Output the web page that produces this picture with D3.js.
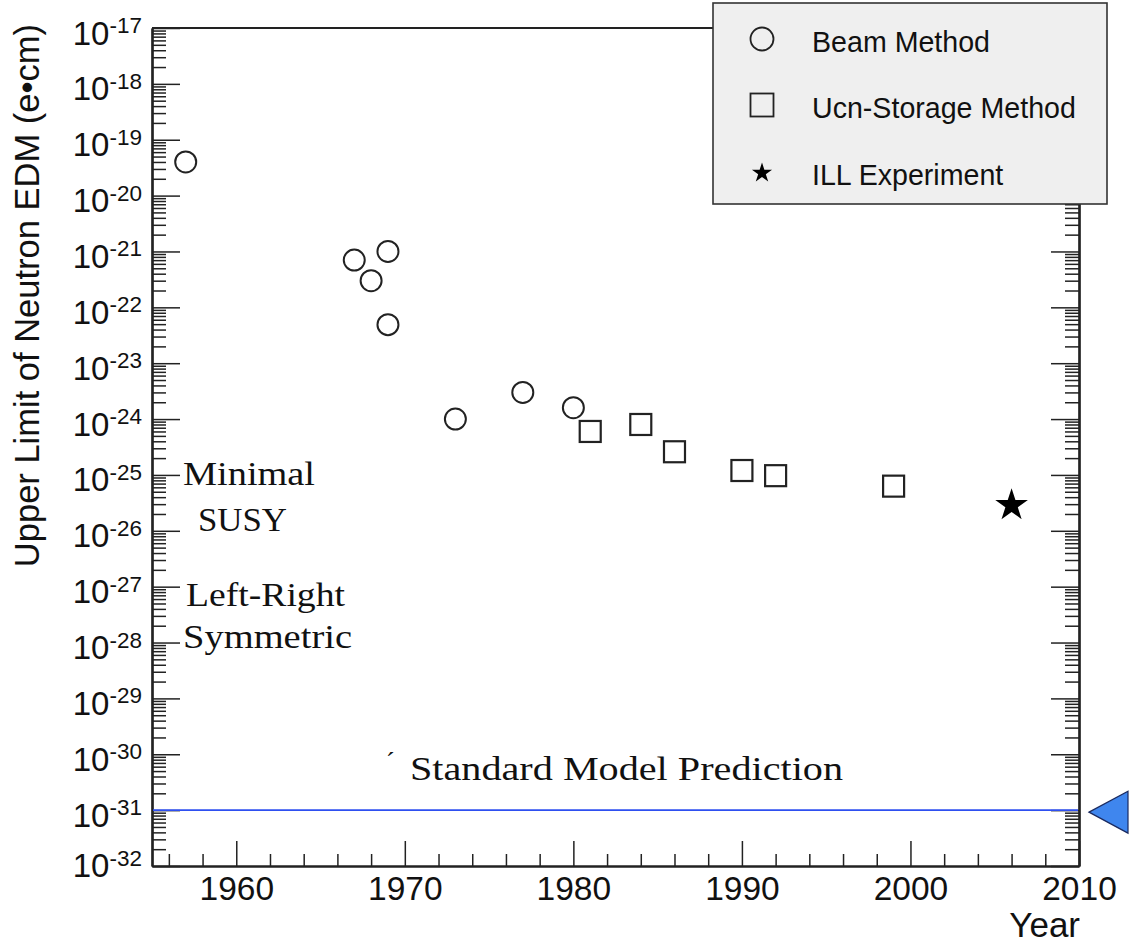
<!DOCTYPE html>
<html>
<head>
<meta charset="utf-8">
<script src="https://cdn.jsdelivr.net/npm/d3@7"></script>
<style>
  html, body { margin: 0; padding: 0; background: #fff; }
  svg { display: block; }
</style>
</head>
<body>
<svg id="chart" width="1129" height="944"></svg>
<script>
// ---------------- data ----------------
const beamYears  = [1957, 1967, 1968, 1969, 1969, 1973, 1977, 1980];
const beamValues = [4e-20, 7e-22, 3e-22, 1e-21, 4.9e-23, 1e-24, 3e-24, 1.6e-24];

const ucnYears  = [1981, 1984, 1986, 1990, 1992, 1999];
const ucnValues = [6e-25, 8e-25, 2.6e-25, 1.2e-25, 9.7e-26, 6.3e-26];

const illYears  = [2006];
const illValues = [3.1e-26];

const standardModelValue = 1e-31;

const xTickYears = [1960, 1970, 1980, 1990, 2000, 2010];
const yTickExponents = [-17, -18, -19, -20, -21, -22, -23, -24, -25, -26, -27, -28, -29, -30, -31, -32];

const legendLabels = ["Beam Method", "Ucn-Storage Method", "ILL Experiment"];
const theoryLabels = [
  {lines: ["Minimal", "SUSY"]},
  {lines: ["Left-Right", "Symmetric"]}
];
const smLabel = "Standard Model Prediction";
const yTitle = "Upper Limit of Neutron EDM (e\u2022cm)";
const xTitle = "Year";

// ---------------- layout ----------------
const L = 152, R = 1079, T = 28, B = 866;
const svg = d3.select("#chart");
const x = d3.scaleLinear().domain([1955, 2010]).range([L, R]);
const y = d3.scaleLog().domain([1e-32, 1e-17]).range([B, T]);
const ink = "#222";
const sans = "'Liberation Sans', Arial, Helvetica, sans-serif";
const serif = "'Liberation Serif', 'Times New Roman', serif";

// ---------------- axes ----------------
const majorY = yTickExponents.map(e => Math.pow(10, e));
const minorY = [];
yTickExponents.filter(e => e < -17).forEach(e => {
  for (let k = 2; k <= 9; k++) minorY.push(k * Math.pow(10, e));
});

function styleAxis(g) {
  g.selectAll("path.domain").attr("stroke", ink).attr("stroke-width", 2.2);
  g.selectAll(".tick line").attr("stroke", ink).attr("stroke-width", 1.5);
  g.selectAll("text").remove();
}

// left axis
svg.append("g").attr("transform", `translate(${L},0)`)
  .call(d3.axisLeft(y).tickValues(minorY).tickSize(-14).tickSizeOuter(0).tickFormat(""))
  .call(styleAxis);
svg.append("g").attr("transform", `translate(${L},0)`)
  .call(d3.axisLeft(y).tickValues(majorY).tickSize(-28).tickSizeOuter(0).tickFormat(""))
  .call(styleAxis);

// right axis
svg.append("g").attr("transform", `translate(${R},0)`)
  .call(d3.axisRight(y).tickValues(minorY).tickSize(-14).tickSizeOuter(0).tickFormat(""))
  .call(styleAxis);
svg.append("g").attr("transform", `translate(${R},0)`)
  .call(d3.axisRight(y).tickValues(majorY).tickSize(-28).tickSizeOuter(0).tickFormat(""))
  .call(styleAxis);

// bottom axis
const minorYears = d3.range(1956, 2010, 2).filter(v => !xTickYears.includes(v));
svg.append("g").attr("transform", `translate(0,${B})`)
  .call(d3.axisBottom(x).tickValues(minorYears).tickSize(-12).tickSizeOuter(0).tickFormat(""))
  .call(styleAxis);
const xAxis = svg.append("g").attr("transform", `translate(0,${B})`)
  .call(d3.axisBottom(x).tickValues(xTickYears).tickSize(-25).tickSizeOuter(0).tickFormat(d3.format("d")).tickPadding(10));
xAxis.selectAll("path.domain").attr("stroke", ink).attr("stroke-width", 2.2);
xAxis.selectAll(".tick line").attr("stroke", ink).attr("stroke-width", 1.5);
xAxis.selectAll("text").attr("font-family", sans).attr("font-size", 33.5).attr("fill", "#111");

// top frame line
svg.append("line").attr("x1", L).attr("x2", R).attr("y1", T).attr("y2", T)
  .attr("stroke", ink).attr("stroke-width", 2.2);

// y tick labels 10^n
yTickExponents.forEach((e, i) => {
  const yy = y(Math.pow(10, e));
  const off = (e === -32) ? 11 : 16.5;
  const t = svg.append("text").attr("x", 142).attr("y", yy + off)
    .attr("text-anchor", "end").attr("font-family", sans).attr("fill", "#111");
  t.append("tspan").attr("font-size", 33).text("10");
  t.append("tspan").attr("font-size", 22.5).attr("dy", -11.5).text(String(e));
});

// axis titles
svg.append("text")
  .attr("transform", "rotate(-90)")
  .attr("x", -24).attr("y", 39)
  .attr("text-anchor", "end")
  .attr("font-family", sans).attr("font-size", 34.5).attr("fill", "#111")
  .text(yTitle);
svg.append("text").attr("x", 1080).attr("y", 937).attr("text-anchor", "end")
  .attr("font-family", sans).attr("font-size", 35).attr("fill", "#111").text(xTitle);

// ---------------- standard model line & marker ----------------
const ySM = y(standardModelValue);
svg.append("line").attr("x1", L + 1).attr("x2", R - 1).attr("y1", ySM).attr("y2", ySM)
  .attr("stroke", "#2e4ff0").attr("stroke-width", 1.8);
svg.append("path")
  .attr("d", d3.line()([[1089, ySM + 2], [1128, ySM - 19], [1128, ySM + 23]]) + "Z")
  .attr("fill", "#3f86ee").attr("stroke", "#1a2a60").attr("stroke-width", 1.2);

// ---------------- annotations ----------------
function serifText(str, xx, yy, w) {
  svg.append("text").attr("x", xx).attr("y", yy)
    .attr("font-family", serif).attr("font-size", 34).attr("fill", "#111")
    .attr("textLength", w).attr("lengthAdjust", "spacingAndGlyphs")
    .text(str);
}
serifText(theoryLabels[0].lines[0], 183, 485, 132);
serifText(theoryLabels[0].lines[1], 198, 531, 89);
serifText(theoryLabels[1].lines[0], 186, 606, 159);
serifText(theoryLabels[1].lines[1], 183, 648, 169);
serifText(smLabel, 410, ySM - 30, 433);
svg.append("text").attr("x", 386).attr("y", ySM - 40)
  .attr("font-family", serif).attr("font-size", 26).attr("fill", "#111").text("\u02CA");

// ---------------- data marks ----------------
const mk = svg.append("g");
mk.selectAll("circle.beam").data(beamYears.map((yr, i) => [yr, beamValues[i]]))
  .join("circle").attr("class", "beam")
  .attr("cx", d => x(d[0])).attr("cy", d => y(d[1])).attr("r", 10.5)
  .attr("fill", "none").attr("stroke", ink).attr("stroke-width", 2);

const sq = 21;
mk.selectAll("rect.ucn").data(ucnYears.map((yr, i) => [yr, ucnValues[i]]))
  .join("rect").attr("class", "ucn")
  .attr("x", d => x(d[0]) - sq / 2).attr("y", d => y(d[1]) - sq / 2)
  .attr("width", sq).attr("height", sq)
  .attr("fill", "none").attr("stroke", ink).attr("stroke-width", 2.2);

mk.selectAll("path.ill").data(illYears.map((yr, i) => [yr, illValues[i]]))
  .join("path").attr("class", "ill")
  .attr("transform", d => `translate(${x(d[0])},${y(d[1]) + 2})`)
  .attr("d", d3.symbol(d3.symbolStar, 330)())
  .attr("fill", "#000");

// ---------------- legend ----------------
const lg = svg.append("g");
lg.append("rect").attr("x", 713).attr("y", 3).attr("width", 394).attr("height", 201)
  .attr("fill", "#efefef").attr("stroke", "#333").attr("stroke-width", 1.6);
const rowBase = [52, 118, 185];
lg.append("circle").attr("cx", 762).attr("cy", rowBase[0] - 13).attr("r", 11.5)
  .attr("fill", "none").attr("stroke", ink).attr("stroke-width", 1.8);
lg.append("rect").attr("x", 762 - 11.5).attr("y", rowBase[1] - 13 - 11.5).attr("width", 23).attr("height", 23)
  .attr("fill", "none").attr("stroke", ink).attr("stroke-width", 1.8);
lg.append("path").attr("transform", `translate(762,${rowBase[2] - 12})`)
  .attr("d", d3.symbol(d3.symbolStar, 125)()).attr("fill", "#000");
legendLabels.forEach((s, i) => {
  lg.append("text").attr("x", 812).attr("y", rowBase[i])
    .attr("font-family", sans).attr("font-size", 28.6).attr("fill", "#111").text(s);
});
</script>
</body>
</html>
